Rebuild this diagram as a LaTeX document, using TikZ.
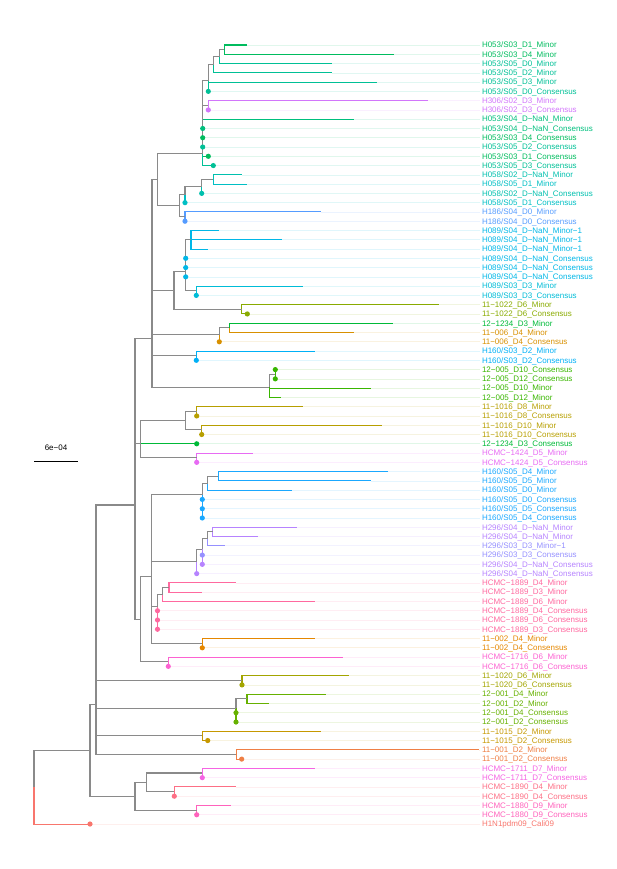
\documentclass[tikz,border=0pt]{standalone}
\usepackage{fontspec}
\setmainfont{Liberation Sans}
\definecolor{gr}{HTML}{8A8A8A}
\definecolor{c0}{HTML}{F8766D}
\definecolor{c1}{HTML}{EF7F45}
\definecolor{c2}{HTML}{E58700}
\definecolor{c3}{HTML}{D89000}
\definecolor{c4}{HTML}{C69800}
\definecolor{c5}{HTML}{B79F00}
\definecolor{c6}{HTML}{A3A500}
\definecolor{c7}{HTML}{89AB00}
\definecolor{c8}{HTML}{66B100}
\definecolor{c9}{HTML}{39B600}
\definecolor{c10}{HTML}{00BA38}
\definecolor{c11}{HTML}{00BC5E}
\definecolor{c12}{HTML}{00BF7D}
\definecolor{c13}{HTML}{00C096}
\definecolor{c14}{HTML}{00C0AE}
\definecolor{c15}{HTML}{00BFC4}
\definecolor{c16}{HTML}{00BCD7}
\definecolor{c17}{HTML}{00B7E7}
\definecolor{c18}{HTML}{00B0F6}
\definecolor{c19}{HTML}{1AA8FF}
\definecolor{c20}{HTML}{559CFF}
\definecolor{c21}{HTML}{9590FF}
\definecolor{c22}{HTML}{B683FF}
\definecolor{c23}{HTML}{D276FB}
\definecolor{c24}{HTML}{E76BF3}
\definecolor{c25}{HTML}{F564E3}
\definecolor{c26}{HTML}{FC62D1}
\definecolor{c27}{HTML}{FF62BC}
\definecolor{c28}{HTML}{FF699F}
\definecolor{c29}{HTML}{FD6F85}
\tikzset{
  edge/.style={line width=1.05pt},
  gedge/.style={edge, draw=gr},
  faint/.style={line width=0.65pt, draw=#1!12},
  lab/.style={anchor=base west, inner sep=0pt, font=\fontsize{8}{9}\selectfont, yshift=-2.8pt},
}
\newcommand\tip[6]{%
  \coordinate (#1) at (#4,#2);
  \draw[faint=#3] (#1) -- (#1 -| lx);
  \draw[edge,draw=#3] (#5) |- (#1);
  \node[lab,text=#3] (#1l) at (#1 -| lt) {#6};
}
\newcommand\ie[2]{\draw[gedge] (#1) |- (#2);}
\newcommand\dotat[2]{\fill[#2] (#1) circle (2.6pt);}
\begin{document}
\begin{tikzpicture}[x=1pt,y=-9.274pt]
\useasboundingbox (0,0) rectangle (617,93.703);
\begin{scope}[yshift=-35.726pt]
\coordinate (lx) at (480,0);
\coordinate (lt) at (481.8,0);
% internal nodes
\coordinate (root) at (34,81.03);
\coordinate (n90) at (90,77.05);
\coordinate (n96) at (96,72.1);
\coordinate (nbb) at (135,82);
\coordinate (nbc) at (146.7,80.5);
\coordinate (oe) at (202.3,79.5);
\coordinate (of) at (174.3,81.5);
\coordinate (og) at (196.7,83.5);
\coordinate (n135) at (135,50.6);
\coordinate (oa) at (242,69.5);
\coordinate (ob) at (236,72.5);
\coordinate (obm) at (247,71.5);
\coordinate (oc) at (202.3,75.5);
\coordinate (od) at (236.3,77.5);
\coordinate (na1) at (152,32.63);
\coordinate (nt) at (140.7,44.0);
\coordinate (nlow) at (140.7,62.9);
\coordinate (nmid) at (151.7,58.3);
\coordinate (nz) at (168.3,67.5);
\coordinate (nx1) at (202.3,49.5);
\coordinate (nx2) at (207.7,48.25);
\coordinate (nx3) at (218.3,47.5);
\coordinate (ne4) at (196.7,56.69);
\coordinate (ne3) at (202.3,55.375);
\coordinate (ne2) at (207.7,54.25);
\coordinate (ne1) at (212.7,53.5);
\coordinate (nfc) at (157.5,61.5);
\coordinate (nfb) at (162.7,60.25);
\coordinate (nfa) at (169,59.5);
\coordinate (ny) at (202.3,65.5);
\coordinate (nk16) at (185.7,41.5);
\coordinate (nu) at (196.7,40.5);
\coordinate (nv) at (201.7,42.5);
\coordinate (nw) at (196.7,45.5);
\coordinate (n157) at (157.3,15.48);
\coordinate (n174) at (174,27.47);
\coordinate (nl) at (219.3,32.25);
\coordinate (nm) at (229.3,31.5);
\coordinate (nq) at (196.3,34.5);
\coordinate (ns) at (269.3,37.9);
\coordinate (nr) at (275.3,36.5);
\coordinate (ng) at (185.7,25.44);
\coordinate (ngm) at (191,22);
\coordinate (ngs) at (196.3,27.5);
\coordinate (nk) at (241.7,29.5);
\coordinate (nbig) at (202.7,12.65);
\coordinate (n179) at (179.3,18.31);
\coordinate (nha) at (185,17.125);
\coordinate (nhb) at (201.7,16.25);
\coordinate (nhm) at (213.3,15.5);
\coordinate (nhc) at (185,19.5);
\coordinate (nd) at (208.3,4.85);
\coordinate (np) at (208.3,7.5);
\coordinate (nc) at (213.3,3.125);
\coordinate (nb) at (219.3,2.25);
\coordinate (na) at (224.3,1.5);
% tips
\tip{t1}{1}{c11}{247.3}{na}{H053/S03\_D1\_Minor}
\tip{t2}{2}{c11}{394.3}{na}{H053/S03\_D4\_Minor}
\tip{t3}{3}{c13}{331.7}{nb}{H053/S05\_D0\_Minor}
\tip{t4}{4}{c13}{331.7}{nc}{H053/S05\_D2\_Minor}
\tip{t5}{5}{c13}{377}{nd}{H053/S05\_D3\_Minor}
\tip{t6}{6}{c13}{208.3}{nd}{H053/S05\_D0\_Consensus}
\tip{t7}{7}{c23}{428.3}{np}{H306/S02\_D3\_Minor}
\tip{t8}{8}{c23}{208.3}{np}{H306/S02\_D3\_Consensus}
\tip{t9}{9}{c12}{354.3}{nbig}{H053/S04\_D−NaN\_Minor}
\tip{t10}{10}{c12}{202.7}{nbig}{H053/S04\_D−NaN\_Consensus}
\tip{t11}{11}{c11}{202.7}{nbig}{H053/S03\_D4\_Consensus}
\tip{t12}{12}{c13}{202.7}{nbig}{H053/S05\_D2\_Consensus}
\tip{t13}{13}{c11}{208.3}{nbig}{H053/S03\_D1\_Consensus}
\tip{t14}{14}{c13}{213.3}{nbig}{H053/S05\_D3\_Consensus}
\tip{t15}{15}{c14}{241.7}{nhm}{H058/S02\_D−NaN\_Minor}
\tip{t16}{16}{c15}{247.3}{nhm}{H058/S05\_D1\_Minor}
\tip{t17}{17}{c14}{201.7}{nhb}{H058/S02\_D−NaN\_Consensus}
\tip{t18}{18}{c15}{185}{nha}{H058/S05\_D1\_Consensus}
\tip{t19}{19}{c20}{320.7}{nhc}{H186/S04\_D0\_Minor}
\tip{t20}{20}{c20}{185}{nhc}{H186/S04\_D0\_Consensus}
\tip{t21}{21}{c17}{219.3}{ngm}{H089/S04\_D−NaN\_Minor−1}
\tip{t22}{22}{c17}{281.7}{ngm}{H089/S04\_D−NaN\_Minor−1}
\tip{t23}{23}{c17}{208.3}{ngm}{H089/S04\_D−NaN\_Minor−1}
\tip{t24}{24}{c17}{185.7}{ng}{H089/S04\_D−NaN\_Consensus}
\tip{t25}{25}{c17}{185.7}{ng}{H089/S04\_D−NaN\_Consensus}
\tip{t26}{26}{c17}{185.7}{ng}{H089/S04\_D−NaN\_Consensus}
\tip{t27}{27}{c16}{303.3}{ngs}{H089/S03\_D3\_Minor}
\tip{t28}{28}{c16}{196.3}{ngs}{H089/S03\_D3\_Consensus}
\tip{t29}{29}{c7}{439.3}{nk}{11−1022\_D6\_Minor}
\tip{t30}{30}{c7}{247.3}{nk}{11−1022\_D6\_Consensus}
\tip{t31}{31}{c10}{393.3}{nm}{12−1234\_D3\_Minor}
\tip{t32}{32}{c3}{354.3}{nm}{11−006\_D4\_Minor}
\tip{t33}{33}{c3}{219.3}{nl}{11−006\_D4\_Consensus}
\tip{t34}{34}{c18}{315}{nq}{H160/S03\_D2\_Minor}
\tip{t35}{35}{c18}{196.3}{nq}{H160/S03\_D2\_Consensus}
\tip{t36}{36}{c9}{275.3}{nr}{12−005\_D10\_Consensus}
\tip{t37}{37}{c9}{275.3}{nr}{12−005\_D12\_Consensus}
\tip{t38}{38}{c9}{371}{ns}{12−005\_D10\_Minor}
\tip{t39}{39}{c9}{281}{ns}{12−005\_D12\_Minor}
\tip{t40}{40}{c5}{303.3}{nu}{11−1016\_D8\_Minor}
\tip{t41}{41}{c5}{196.7}{nu}{11−1016\_D8\_Consensus}
\tip{t42}{42}{c5}{382.3}{nv}{11−1016\_D10\_Minor}
\tip{t43}{43}{c5}{201.7}{nv}{11−1016\_D10\_Consensus}
\tip{t44}{44}{c10}{196.7}{nt}{12−1234\_D3\_Consensus}
\tip{t45}{45}{c24}{252.7}{nw}{HCMC−1424\_D5\_Minor}
\tip{t46}{46}{c24}{196.7}{nw}{HCMC−1424\_D5\_Consensus}
\tip{t47}{47}{c19}{387.7}{nx3}{H160/S05\_D4\_Minor}
\tip{t48}{48}{c19}{370.7}{nx3}{H160/S05\_D5\_Minor}
\tip{t49}{49}{c19}{292.3}{nx2}{H160/S05\_D0\_Minor}
\tip{t50}{50}{c19}{202.3}{nx1}{H160/S05\_D0\_Consensus}
\tip{t51}{51}{c19}{202.3}{nx1}{H160/S05\_D5\_Consensus}
\tip{t52}{52}{c19}{202.3}{nx1}{H160/S05\_D4\_Consensus}
\tip{t53}{53}{c22}{297.3}{ne1}{H296/S04\_D−NaN\_Minor}
\tip{t54}{54}{c22}{258.3}{ne1}{H296/S04\_D−NaN\_Minor}
\tip{t55}{55}{c21}{225}{ne2}{H296/S03\_D3\_Minor−1}
\tip{t56}{56}{c21}{202.3}{ne3}{H296/S03\_D3\_Consensus}
\tip{t57}{57}{c22}{202.3}{ne3}{H296/S04\_D−NaN\_Consensus}
\tip{t58}{58}{c22}{196.7}{ne4}{H296/S04\_D−NaN\_Consensus}
\tip{t59}{59}{c28}{236}{nfa}{HCMC−1889\_D4\_Minor}
\tip{t60}{60}{c28}{202.3}{nfa}{HCMC−1889\_D3\_Minor}
\tip{t61}{61}{c28}{314.7}{nfb}{HCMC−1889\_D6\_Minor}
\tip{t62}{62}{c28}{157.5}{nfc}{HCMC−1889\_D4\_Consensus}
\tip{t63}{63}{c28}{157.5}{nfc}{HCMC−1889\_D6\_Consensus}
\tip{t64}{64}{c28}{157.5}{nfc}{HCMC−1889\_D3\_Consensus}
\tip{t65}{65}{c2}{314.7}{ny}{11−002\_D4\_Minor}
\tip{t66}{66}{c2}{202.3}{ny}{11−002\_D4\_Consensus}
\tip{t67}{67}{c26}{343.3}{nz}{HCMC−1716\_D6\_Minor}
\tip{t68}{68}{c26}{168.3}{nz}{HCMC−1716\_D6\_Consensus}
\tip{t69}{69}{c6}{348.7}{oa}{11−1020\_D6\_Minor}
\tip{t70}{70}{c6}{242}{oa}{11−1020\_D6\_Consensus}
\tip{t71}{71}{c8}{326}{obm}{12−001\_D4\_Minor}
\tip{t72}{72}{c8}{269.3}{obm}{12−001\_D2\_Minor}
\tip{t73}{73}{c8}{236}{ob}{12−001\_D4\_Consensus}
\tip{t74}{74}{c8}{236}{ob}{12−001\_D2\_Consensus}
\tip{t75}{75}{c4}{320.7}{oc}{11−1015\_D2\_Minor}
\tip{t76}{76}{c4}{207.7}{oc}{11−1015\_D2\_Consensus}
\tip{t77}{77}{c1}{479}{od}{11−001\_D2\_Minor}
\tip{t78}{78}{c1}{241.7}{od}{11−001\_D2\_Consensus}
\tip{t79}{79}{c25}{314.7}{oe}{HCMC−1711\_D7\_Minor}
\tip{t80}{80}{c25}{202.3}{oe}{HCMC−1711\_D7\_Consensus}
\tip{t81}{81}{c29}{236.3}{of}{HCMC−1890\_D4\_Minor}
\tip{t82}{82}{c29}{174.3}{of}{HCMC−1890\_D4\_Consensus}
\tip{t83}{83}{c27}{230.7}{og}{HCMC−1880\_D9\_Minor}
\tip{t84}{84}{c27}{196.7}{og}{HCMC−1880\_D9\_Consensus}
\tip{t85}{85}{c0}{90}{root}{H1N1pdm09\_Cali09}
% internal edges
\ie{root}{n90}\ie{n90}{n96}\ie{n90}{nbb}\ie{nbb}{nbc}\ie{nbb}{og}\ie{nbc}{oe}\ie{nbc}{of}
\ie{n96}{n135}\ie{n96}{oa}\ie{n96}{ob}\ie{n96}{oc}\ie{n96}{od}\ie{ob}{obm}
\ie{n135}{na1}\ie{n135}{nt}\ie{n135}{nlow}\ie{nlow}{nmid}\ie{nlow}{nz}
\ie{nmid}{nx1}\ie{nmid}{ne4}\ie{nmid}{nfc}\ie{nmid}{ny}
\ie{nx1}{nx2}\ie{nx2}{nx3}\ie{ne4}{ne3}\ie{ne3}{ne2}\ie{ne2}{ne1}\ie{nfc}{nfb}\ie{nfb}{nfa}
\ie{nt}{nk16}\ie{nt}{nw}\ie{nk16}{nu}\ie{nk16}{nv}
\ie{na1}{n157}\ie{na1}{n174}\ie{na1}{nl}\ie{na1}{nq}\ie{na1}{ns}\ie{ns}{nr}\ie{nl}{nm}
\ie{n174}{ng}\ie{n174}{nk}\ie{ng}{ngm}\ie{ng}{ngs}
\ie{n157}{nbig}\ie{n157}{n179}\ie{n179}{nha}\ie{n179}{nhc}\ie{nha}{nhb}\ie{nhb}{nhm}
\ie{nbig}{nd}\ie{nbig}{np}\ie{nd}{nc}\ie{nc}{nb}\ie{nb}{na}
% dots
\dotat{t6}{c13}\dotat{t8}{c23}\dotat{t10}{c12}\dotat{t11}{c11}\dotat{t12}{c13}
\dotat{t13}{c11}\dotat{t14}{c13}\dotat{t17}{c14}\dotat{t18}{c15}\dotat{t20}{c20}
\dotat{t24}{c17}\dotat{t25}{c17}\dotat{t26}{c17}\dotat{t28}{c16}\dotat{t30}{c7}
\dotat{t33}{c3}\dotat{t35}{c18}\dotat{t36}{c9}\dotat{t37}{c9}\dotat{t41}{c5}
\dotat{t43}{c5}\dotat{t44}{c10}\dotat{t46}{c24}\dotat{t50}{c19}\dotat{t51}{c19}
\dotat{t52}{c19}\dotat{t56}{c21}\dotat{t57}{c22}\dotat{t58}{c22}\dotat{t62}{c28}
\dotat{t63}{c28}\dotat{t64}{c28}\dotat{t66}{c2}\dotat{t68}{c26}\dotat{t70}{c6}
\dotat{t73}{c8}\dotat{t74}{c8}\dotat{t76}{c4}\dotat{t78}{c1}\dotat{t80}{c25}
\dotat{t82}{c29}\dotat{t84}{c27}\dotat{t85}{c0}
% scale bar
\coordinate (s1) at (34,45.86);
\coordinate (s2) at (78,45.86);
\draw[line width=0.8pt] (s1) -- (s2);
\node[inner sep=0pt, font=\fontsize{8}{9}\selectfont] (stxt) at (56,44.45) {6e−04};
\end{scope}
\end{tikzpicture}
\end{document}
